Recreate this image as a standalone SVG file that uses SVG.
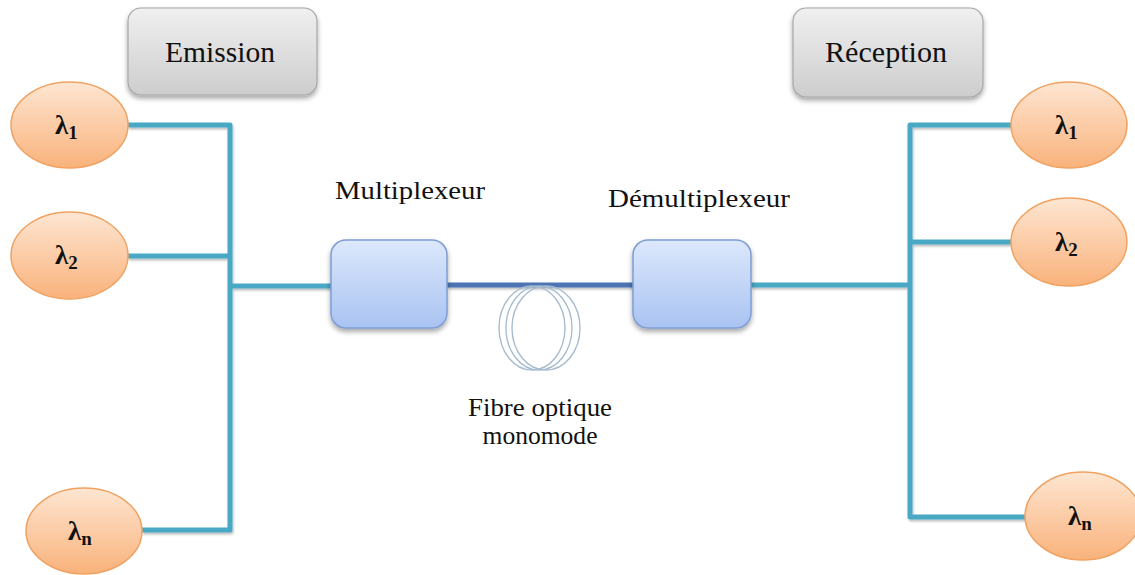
<svg xmlns="http://www.w3.org/2000/svg" width="1135" height="575" viewBox="0 0 1135 575">
  <defs>
    <linearGradient id="gOrange" x1="0" y1="0" x2="0" y2="1">
      <stop offset="0" stop-color="#fee6d2"/>
      <stop offset="1" stop-color="#f9b27b"/>
    </linearGradient>
    <linearGradient id="gGray" x1="0" y1="0" x2="0" y2="1">
      <stop offset="0" stop-color="#f0f0f0"/>
      <stop offset="1" stop-color="#cdcdcd"/>
    </linearGradient>
    <linearGradient id="gBlue" x1="0" y1="0" x2="0" y2="1">
      <stop offset="0" stop-color="#dce8fc"/>
      <stop offset="1" stop-color="#a9c3f2"/>
    </linearGradient>
    <filter id="shadow" x="-20%" y="-20%" width="140%" height="150%">
      <feDropShadow dx="0" dy="3" stdDeviation="2.5" flood-color="#000" flood-opacity="0.35"/>
    </filter>
    <filter id="lineShadow" x="-5%" y="-5%" width="110%" height="110%">
      <feDropShadow dx="1" dy="2" stdDeviation="1" flood-color="#000" flood-opacity="0.25"/>
    </filter>
  </defs>
  <style>
    .wave { fill: url(#gOrange); stroke: #f0a262; stroke-width: 1.5; }
    .label { fill: url(#gGray); stroke: #a6a6a6; stroke-width: 1.2; filter: url(#shadow); }
    .mux { fill: url(#gBlue); stroke: #7d9dd4; stroke-width: 1.5; filter: url(#shadow); }
    .t { font-family: "Liberation Serif", "Times New Roman", serif; fill: #111; }
    .big { font-size: 30px; }
    .mid { font-size: 26px; }
    .lam { font-family: "Liberation Serif", "Times New Roman", serif; font-weight: bold; font-size: 27px; fill: #111; }
    .sub { font-size: 19px; }
    .link { fill: none; stroke: #49a9c5; stroke-width: 5; stroke-linejoin: round; }
    .fibre { fill: none; stroke: #4d74b4; stroke-width: 5; }
    .coil { fill: none; stroke: #a8bccf; stroke-width: 1.4; }
  </style>

  <!-- connectors -->
  <g id="connectors" filter="url(#lineShadow)">
    <path class="link" d="M128 125 H230 V530 H142"/>
    <path class="link" d="M128 256 H230"/>
    <path class="link" d="M230 286 H332"/>
    <path class="link" d="M751 285 H910"/>
    <path class="link" d="M1011 125 H910 V517 H1025"/>
    <path class="link" d="M910 242 H1011"/>
    <path class="fibre" d="M447 285 H633"/>
  </g>

  <!-- fibre spool -->
  <g id="fibre-spool">
    <ellipse class="coil" cx="532" cy="328" rx="33" ry="42"/>
    <ellipse class="coil" cx="539" cy="328" rx="33" ry="42"/>
    <ellipse class="coil" cx="546" cy="328" rx="34" ry="42"/>
    <text class="t mid" x="540" y="416" text-anchor="middle" textLength="144" lengthAdjust="spacingAndGlyphs">Fibre optique</text>
    <text class="t mid" x="540" y="444" text-anchor="middle" textLength="115" lengthAdjust="spacingAndGlyphs">monomode</text>
  </g>

  <!-- header boxes -->
  <g id="emission">
    <rect class="label" x="128" y="8" width="189" height="87" rx="13"/>
    <text class="t big" x="220" y="62" text-anchor="middle" textLength="110" lengthAdjust="spacingAndGlyphs">Emission</text>
  </g>
  <g id="reception">
    <rect class="label" x="793" y="8" width="190" height="89" rx="13"/>
    <text class="t big" x="886" y="62" text-anchor="middle" textLength="122" lengthAdjust="spacingAndGlyphs">Réception</text>
  </g>

  <!-- multiplexer / demultiplexer -->
  <g id="multiplexeur">
    <rect class="mux" x="331" y="240" width="116" height="88" rx="15"/>
    <text class="t mid" x="410" y="199" text-anchor="middle" textLength="150" lengthAdjust="spacingAndGlyphs">Multiplexeur</text>
  </g>
  <g id="demultiplexeur">
    <rect class="mux" x="633" y="240" width="118" height="88" rx="15"/>
    <text class="t mid" x="699" y="207" text-anchor="middle" textLength="182" lengthAdjust="spacingAndGlyphs">Démultiplexeur</text>
  </g>

  <!-- emitted wavelengths -->
  <g id="tx-lambda1">
    <ellipse class="wave" cx="69.5" cy="125" rx="58.5" ry="43"/>
    <text class="lam" x="55" y="134">λ<tspan class="sub" dy="5">1</tspan></text>
  </g>
  <g id="tx-lambda2">
    <ellipse class="wave" cx="69.5" cy="255.5" rx="58.5" ry="43.5"/>
    <text class="lam" x="55" y="264">λ<tspan class="sub" dy="5">2</tspan></text>
  </g>
  <g id="tx-lambdan">
    <ellipse class="wave" cx="84" cy="531" rx="58" ry="43"/>
    <text class="lam" x="68" y="540">λ<tspan class="sub" dy="5">n</tspan></text>
  </g>

  <!-- received wavelengths -->
  <g id="rx-lambda1">
    <ellipse class="wave" cx="1069" cy="125" rx="58" ry="43"/>
    <text class="lam" x="1055" y="134">λ<tspan class="sub" dy="5">1</tspan></text>
  </g>
  <g id="rx-lambda2">
    <ellipse class="wave" cx="1069" cy="242" rx="58" ry="44"/>
    <text class="lam" x="1055" y="251">λ<tspan class="sub" dy="5">2</tspan></text>
  </g>
  <g id="rx-lambdan">
    <ellipse class="wave" cx="1083" cy="516" rx="58" ry="44"/>
    <text class="lam" x="1068" y="525">λ<tspan class="sub" dy="5">n</tspan></text>
  </g>
</svg>
